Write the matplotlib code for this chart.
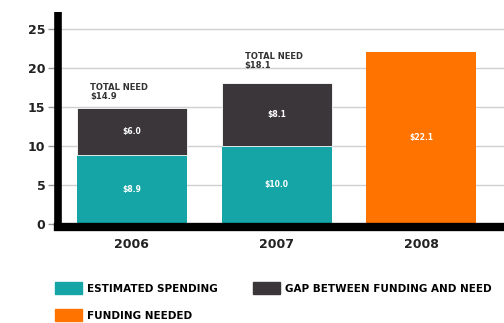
import matplotlib.pyplot as plt
from matplotlib.patches import Patch

years = ['2006', '2007', '2008']
spending = [8.9, 10.0, 0]
gap = [6.0, 8.1, 0]
needed = [0, 0, 22.1]
total_need = [14.9, 18.1]
yticks = [0, 5, 10, 15, 20, 25]

teal = '#15a5a6'
dark = '#3a3639'
orange = '#ff7300'

plt.rcParams['font.family'] = 'DejaVu Sans'
plt.rcParams['font.weight'] = 'bold'

fig = plt.figure(figsize=(5.04, 3.23), dpi=100)
ax = fig.add_axes([0.115, 0.297, 0.885, 0.666])

x = range(len(years))
w = 0.76
ax.bar(x[:2], spending[:2], w, color=teal, zorder=3)
ax.bar(x[:2], gap[:2], w, bottom=spending[:2], color=dark, edgecolor='white',
       linewidth=0.6, zorder=3)
ax.bar([2], needed[2:], w, color=orange, zorder=3)

note_dx = [-0.29, -0.22]
note_dy = [0.9, 1.6]
for i in range(2):
    ax.text(i, spending[i] / 2, '$%.1f' % spending[i], color='white', fontsize=5.5,
            ha='center', va='center', fontweight='bold', zorder=4)
    ax.text(i, spending[i] + gap[i] / 2, '$%.1f' % gap[i], color='white', fontsize=5.5,
            ha='center', va='center', fontweight='bold', zorder=4)
    ax.text(i + note_dx[i], total_need[i] + note_dy[i], 'TOTAL NEED\n$%.1f' % total_need[i],
            color='#333333', fontsize=6, ha='left', va='bottom', linespacing=1.0,
            fontweight='bold', zorder=4)
ax.text(2, needed[2] / 2, '$%.1f' % needed[2], color='white', fontsize=5.5,
        ha='center', va='center', fontweight='bold', zorder=4)

ax.set_xlim(-0.51, 2.57)
ax.set_ylim(-0.4, 27.2)
ax.set_yticks(yticks)
ax.set_xticks(list(x))
ax.set_xticklabels(years, fontsize=9, fontweight='bold', color='#222222')
ax.tick_params(axis='x', length=0, pad=8)
ax.tick_params(axis='y', length=7, width=1, color='#999999', labelsize=9,
               labelcolor='#222222', pad=2)
ax.grid(axis='y', color='#d0d0d0', linewidth=1, zorder=0)

for s in ['top', 'right']:
    ax.spines[s].set_visible(False)
ax.spines['left'].set_linewidth(5.5)
ax.spines['bottom'].set_linewidth(6)
ax.spines['left'].set_capstyle('butt')
for s in ['left', 'bottom']:
    ax.spines[s].set_zorder(5)

handles = [Patch(color=teal, label='ESTIMATED SPENDING'),
           Patch(color=orange, label='FUNDING NEEDED'),
           Patch(color=dark, label='GAP BETWEEN FUNDING AND NEED')]
fig.legend(handles=handles, loc='upper left', bbox_to_anchor=(0.1, 0.14), ncol=2,
           frameon=False, fontsize=7.5, handlelength=2.6, handleheight=1.45,
           handletextpad=0.5, columnspacing=3.4, labelspacing=1.4, borderaxespad=0)

fig.savefig('out.png', dpi=100)
